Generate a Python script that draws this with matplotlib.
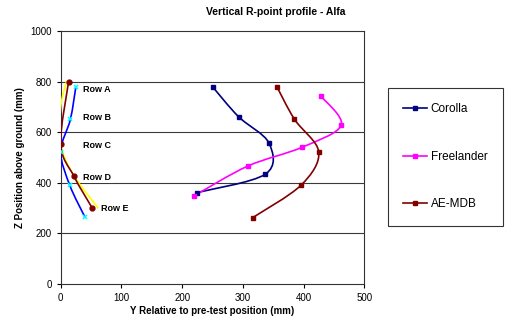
import matplotlib
matplotlib.use("Agg")
import matplotlib.pyplot as plt
import numpy as np
from matplotlib.path import Path
from matplotlib.patches import PathPatch
from matplotlib.lines import Line2D

plt.rcParams['font.family'] = ['Liberation Sans', 'DejaVu Sans']

# Big profiles (mm)
corolla_y = [251, 293, 343, 337, 224]
corolla_z = [777, 661, 557, 434, 361]
freelander_y = [428, 462, 397, 308, 220]
freelander_z = [744, 628, 540, 466, 349]
aemdb_y = [356, 385, 425, 396, 316]
aemdb_z = [780, 651, 522, 391, 262]

# small profiles near the axis
red_small_y = [13, 0, 22, 52]
red_small_z = [800, 552, 425, 300]
yellow_y = [10, 0, 0, 21, 62]
yellow_z = [803, 700, 552, 431, 299]
blue_y = [25, 16, 0, 15, 40]
blue_z = [780, 651, 523, 390, 264]

row_labels = ["Row A", "Row B", "Row C", "Row D", "Row E"]
row_pos = [(37, 768), (37, 660), (37, 549), (37, 422), (66, 300)]

fig = plt.figure(figsize=(5.12, 3.27), dpi=100)
ax = fig.add_axes([60.7/512, 43/327, 303.6/512, 253/327])
ax.set_xlim(0, 500)
ax.set_ylim(0, 1000)

# excel-ish smoothed line
sx, sy = 303.6/500, 253/1000
def smooth(ax, xs, ys, color, lw=1.2):
    p = np.column_stack([np.array(xs)*sx, np.array(ys)*sy]).astype(float)
    n = len(p)
    verts = [p[0]]
    codes = [Path.MOVETO]
    for i in range(n-1):
        p0 = p[i-1] if i > 0 else p[i]
        p1, p2 = p[i], p[i+1]
        p3 = p[i+2] if i+2 < n else p[i+1]
        c1 = p1 + (p2 - p0)/6
        c2 = p2 - (p3 - p1)/6
        verts += [c1, c2, p2]
        codes += [Path.CURVE4]*3
    verts = np.array(verts) / [sx, sy]
    ax.add_patch(PathPatch(Path(verts, codes), fill=False, edgecolor=color, lw=lw, zorder=3))

for yv in [200, 400, 600, 800]:
    ax.axhline(yv, color='#3a3a3a', lw=0.8, zorder=1)

smooth(ax, yellow_y, yellow_z, '#FFFF00')
smooth(ax, blue_y, blue_z, '#0000FF')
ax.plot(blue_y, blue_z, 'x', color='#00FFFF', ms=3.5, mew=1.1, zorder=4)
smooth(ax, red_small_y, red_small_z, '#800000')
ax.plot(red_small_y, red_small_z, 'o', color='#800000', ms=3.5, zorder=4)

series = [(corolla_y, corolla_z, '#000080', 'Corolla'),
          (freelander_y, freelander_z, '#FF00FF', 'Freelander'),
          (aemdb_y, aemdb_z, '#800000', 'AE-MDB')]
handles = []
for xs, zs, c, name in series:
    smooth(ax, xs, zs, c)
    ax.plot(xs, zs, 's', color=c, ms=3.2, zorder=4)
    handles.append(Line2D([], [], color=c, marker='s', ms=3.2, lw=1.2, label=name))

for lab, (x, y) in zip(row_labels, row_pos):
    ax.text(x, y, lab, fontsize=6.5, fontweight='bold', va='center', ha='left',
            bbox=dict(facecolor='white', edgecolor='none', pad=1.0), zorder=2)

ax.set_xticks(range(0, 501, 100))
ax.set_yticks(range(0, 1001, 200))
ax.tick_params(labelsize=7, length=3, width=0.8)
for s in ax.spines.values():
    s.set_linewidth(0.8)
    s.set_color('#333333')

ax.set_xlabel("Y Relative to pre-test position (mm)", fontsize=7, fontweight='bold', labelpad=2)
ax.set_ylabel("Z Position above ground (mm)", fontsize=7, fontweight='bold', labelpad=4)
fig.text(276/512, 1 - 12/327, "Vertical R-point profile - Alfa", fontsize=7.5,
         fontweight='bold', ha='center', va='center')

leg = fig.legend(handles=handles, loc='upper left', bbox_to_anchor=(388/512, 1 - 88/327),
                 fontsize=8.5, frameon=True, fancybox=False, labelspacing=3.0,
                 handlelength=2.0, handletextpad=0.3, borderpad=1.3, borderaxespad=0)
leg.get_frame().set_edgecolor('black')
leg.get_frame().set_linewidth(0.8)

fig.savefig("out.png", dpi=100)
